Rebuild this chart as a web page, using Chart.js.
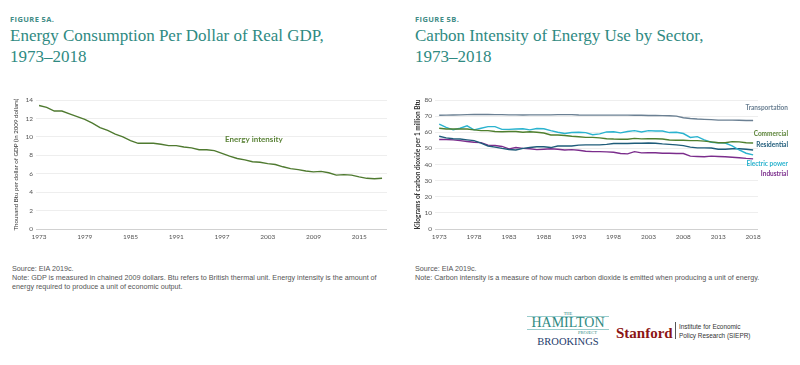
<!DOCTYPE html>
<html lang="en">
<head>
    <meta charset="UTF-8">
    <title>Energy Consumption and Carbon Intensity</title>
    <script src="https://cdn.jsdelivr.net/npm/chart.js"></script>
    <style>
        body {
            margin: 0;
            width: 800px;
            height: 365px;
            background: #fff;
            position: relative;
            overflow: hidden;
            font-family: "Liberation Sans", Arial, sans-serif;
        }
        .fig {
            position: absolute;
            font: bold 7.5px "Open Sans", sans-serif;
            letter-spacing: 0.4px;
            color: #3f8c86;
        }
        .title {
            position: absolute;
            font-family: "Liberation Serif", serif;
            font-size: 17px;
            line-height: 21px;
            color: #2f8a82;
            white-space: nowrap;
        }
        .note {
            position: absolute;
            font-size: 7.2px;
            line-height: 9px;
            color: #555;
            white-space: nowrap;
        }
        .box { position: absolute; }
        .box canvas { display: block; }
        .logo { position: absolute; white-space: nowrap; }
    </style>
</head>
<body>
    <div class="fig" style="left:10px; top:14px;">FIGURE 5A.</div>
    <div class="title" style="left:10px; top:25px;">Energy Consumption Per Dollar of Real GDP,<br>1973–2018</div>

    <div class="fig" style="left:415px; top:14px;">FIGURE 5B.</div>
    <div class="title" style="left:415px; top:25px;">Carbon Intensity of Energy Use by Sector,<br>1973–2018</div>

    <div class="box" style="left:0; top:90px;"><canvas id="gdpChart" width="395" height="155"></canvas></div>
    <div class="box" style="left:400px; top:90px;"><canvas id="sectorChart" width="400" height="155"></canvas></div>

    <div class="note" style="left:12px; top:264px;">Source: EIA 2019c.<br>Note: GDP is measured in chained 2009 dollars. Btu refers to British thermal unit. Energy intensity is the amount of<br>energy required to produce a unit of economic output.</div>
    <div class="note" style="left:415px; top:264px;">Source: EIA 2019c.<br>Note: Carbon intensity is a measure of how much carbon dioxide is emitted when producing a unit of energy.</div>

    <!-- logos -->
    <div class="logo" style="left:527px; top:311px; width:82px; text-align:center; font-family:'Liberation Serif',serif; color:#2f8a82;">
        <div style="font-size:4.5px; line-height:5px;">THE</div>
        <div style="font-size:14px; line-height:12px; border-top:0.5px solid #9cc; border-bottom:0.5px solid #9cc;">HAMILTON</div>
        <div style="font-size:4.5px; line-height:5px; text-align:right; padding-right:12px;">PROJECT</div>
        <div style="font-size:10.5px; line-height:13px; color:#1d3a6b;">BROOKINGS</div>
    </div>
    <div class="logo" style="left:616px; top:325px; font:bold 15px 'Liberation Serif',serif; color:#8c1515;">Stanford</div>
    <div class="logo" style="left:675px; top:322px; width:0; height:17px; border-left:0.6px solid #555;"></div>
    <div class="logo" style="left:679px; top:323px; font-size:6.4px; line-height:8.5px; color:#333;">Institute for Economic<br>Policy Research (SIEPR)</div>

    <script>
        // Figure 5A data
        const years = [];
        for (let y = 1973; y <= 2018; y++) years.push(y);

        const energyIntensity = [13.4, 13.2, 12.8, 12.8, 12.5, 12.2, 11.9, 11.5, 11.0, 10.7,
            10.3, 10.0, 9.6, 9.3, 9.3, 9.3, 9.2, 9.05, 9.05, 8.9,
            8.8, 8.6, 8.6, 8.5, 8.2, 7.9, 7.65, 7.5, 7.3, 7.25,
            7.1, 7.0, 6.75, 6.55, 6.45, 6.3, 6.2, 6.25, 6.1, 5.85,
            5.9, 5.85, 5.65, 5.5, 5.45, 5.5];
        const gdpTicksX = [1973, 1979, 1985, 1991, 1997, 2003, 2009, 2015];

        // Figure 5B data (kg CO2 per million Btu)
        const transportation = [70.5, 70.6, 70.7, 70.8, 70.9, 71.0, 71.0, 71.0, 70.9, 70.9,
            70.8, 70.8, 70.7, 70.8, 70.8, 70.8, 70.8, 70.9, 70.9, 70.9,
            70.7, 70.6, 70.6, 70.6, 70.6, 70.6, 70.6, 70.6, 70.5, 70.5,
            70.4, 70.4, 70.3, 70.2, 70.0, 69.0, 68.5, 68.2, 68.0, 67.8,
            67.5, 67.5, 67.5, 67.4, 67.3, 67.3];
        const commercial = [62.5, 62.0, 62.0, 62.0, 62.0, 61.5, 61.0, 61.0, 60.5, 60.3,
            60.5, 60.5, 60.0, 60.3, 60.0, 59.5, 58.3, 58.3, 58.0, 57.5,
            57.2, 56.8, 56.8, 56.5, 56.0, 55.8, 55.7, 55.7, 56.2, 55.9,
            56.0, 56.0, 55.8, 55.2, 55.0, 55.0, 54.8, 54.8, 54.5, 54.0,
            53.5, 53.5, 54.2, 54.0, 53.5, 53.3];
        const residential = [57.5, 56.5, 56.0, 55.8, 55.3, 54.8, 53.2, 51.5, 50.8, 50.0,
            49.3, 49.0, 50.0, 50.5, 51.0, 51.0, 50.5, 51.5, 51.5, 51.5,
            52.0, 52.2, 52.2, 52.2, 52.5, 53.0, 53.0, 53.0, 53.2, 53.2,
            53.3, 53.2, 52.8, 52.5, 52.2, 51.7, 50.8, 50.3, 50.3, 50.2,
            49.5, 49.5, 49.8, 49.8, 49.5, 49.0];
        const electricPower = [65.0, 63.0, 61.5, 62.5, 64.0, 61.5, 62.5, 63.5, 63.5, 61.8,
            61.8, 62.0, 62.2, 61.5, 62.3, 62.2, 61.0, 60.0, 59.2, 59.8,
            60.0, 59.8, 58.5, 59.0, 60.2, 60.3, 59.6, 60.5, 61.0, 60.2,
            61.0, 60.8, 60.8, 59.8, 60.0, 59.2, 56.8, 57.3, 55.3, 53.8,
            53.5, 53.3, 51.5, 49.0, 47.0, 46.0];
        const industrial = [55.5, 55.5, 55.3, 54.8, 54.3, 53.8, 53.6, 52.0, 51.8, 51.2,
            49.7, 50.5, 50.0, 49.8, 49.2, 49.5, 49.8, 49.5, 49.0, 49.2,
            48.8, 48.2, 48.0, 48.0, 47.8, 47.6, 46.8, 46.6, 48.0, 47.2,
            47.3, 47.3, 47.0, 47.0, 46.8, 46.8, 45.2, 45.0, 44.8, 45.2,
            45.0, 44.8, 44.5, 44.2, 43.8, 43.5];
        const sectorTicksX = [1973, 1978, 1983, 1988, 1993, 1998, 2003, 2008, 2013, 2018];

        const sans = "Lato, 'Liberation Sans', sans-serif";
        const tickFont = { family: sans, size: 6.5 };
        const toXY = arr => arr.map((v, i) => ({ x: years[i], y: v }));

        // draws the series names next to the lines
        const labelPlugin = {
            id: 'seriesLabels',
            afterDatasetsDraw(chart, args, opts) {
                const ctx = chart.ctx;
                const yScale = chart.scales.y;
                ctx.save();
                opts.items.forEach(it => {
                    ctx.font = 'bold ' + (it.size || 6.5) + 'px ' + sans;
                    ctx.fillStyle = it.color;
                    ctx.textAlign = it.align;
                    ctx.textBaseline = 'middle';
                    const x = it.xPix != null ? it.xPix : chart.scales.x.getPixelForValue(it.x);
                    ctx.fillText(it.text, x, yScale.getPixelForValue(it.y));
                });
                ctx.restore();
            }
        };

        function baseOptions(xMin, xMax, xTicks, yMax, yStep, yTitle, titleFont, titlePad, yWidth, padRight) {
            return {
                responsive: false,
                animation: false,
                layout: { padding: { top: 10, right: padRight, left: 0, bottom: 0 } },
                plugins: { legend: { display: false }, tooltip: { enabled: false } },
                elements: { point: { radius: 0 }, line: { borderWidth: 1.4, tension: 0 } },
                scales: {
                    x: {
                        type: 'linear',
                        min: xMin,
                        max: xMax,
                        border: { display: false },
                        grid: { display: false, drawTicks: false },
                        afterBuildTicks: s => { s.ticks = xTicks.map(v => ({ value: v })); },
                        afterFit: s => { s.height = 16; },
                        ticks: {
                            font: tickFont,
                            color: '#555',
                            padding: 4,
                            maxRotation: 0,
                            autoSkip: false,
                            callback: v => String(v)
                        }
                    },
                    y: {
                        min: 0,
                        max: yMax,
                        border: { display: false },
                        grid: {
                            drawTicks: false,
                            lineWidth: 0.7,
                            color: c => c.tick && c.tick.value === 0 ? '#bdbdbd' : '#e6e6e6'
                        },
                        afterFit: s => { s.width = yWidth; },
                        ticks: { stepSize: yStep, font: tickFont, color: '#555', padding: 3 },
                        title: {
                            display: true,
                            text: yTitle,
                            font: titleFont,
                            color: '#333',
                            padding: { top: titlePad, bottom: 0 }
                        }
                    }
                }
            };
        }

        const optsA = baseOptions(1972.6, 2018.65, gdpTicksX, 14, 2,
            'Thousand Btu per dollar of GDP (in 2009 dollars)', { family: sans, size: 6.2 }, 12, 36, 8);
        optsA.plugins.seriesLabels = {
            items: [{ text: 'Energy intensity', x: 1997.4, y: 9.7, color: '#5b8338', align: 'left', size: 8 }]
        };

        new Chart(document.getElementById('gdpChart'), {
            type: 'line',
            data: {
                datasets: [{ label: 'Energy intensity', data: toXY(energyIntensity), borderColor: '#4f7a30' }]
            },
            options: optsA,
            plugins: [labelPlugin]
        });

        const optsB = baseOptions(1972.4, 2018.7, sectorTicksX, 80, 10,
            'Kilograms of carbon dioxide per 1 million Btu', { family: sans, size: 6.5, weight: 'bold' }, 14, 35, 42);
        optsB.plugins.seriesLabels = {
            items: [
                { text: 'Transportation', xPix: 388, y: 75.3, color: '#6b8093', align: 'right' },
                { text: 'Commercial', xPix: 388, y: 59.2, color: '#5a8236', align: 'right' },
                { text: 'Residential', xPix: 388, y: 52.3, color: '#1f5c7a', align: 'right' },
                { text: 'Electric power', xPix: 388, y: 40.3, color: '#2bb3cf', align: 'right' },
                { text: 'Industrial', xPix: 388, y: 34.2, color: '#7b2d8c', align: 'right' }
            ]
        };

        new Chart(document.getElementById('sectorChart'), {
            type: 'line',
            data: {
                datasets: [
                    { label: 'Transportation', data: toXY(transportation), borderColor: '#6b8093' },
                    { label: 'Commercial', data: toXY(commercial), borderColor: '#4f7f2e' },
                    { label: 'Electric power', data: toXY(electricPower), borderColor: '#2bb3cf' },
                    { label: 'Residential', data: toXY(residential), borderColor: '#1f5c7a' },
                    { label: 'Industrial', data: toXY(industrial), borderColor: '#7b2d8c' }
                ]
            },
            options: optsB,
            plugins: [labelPlugin]
        });
    </script>
</body>
</html>
